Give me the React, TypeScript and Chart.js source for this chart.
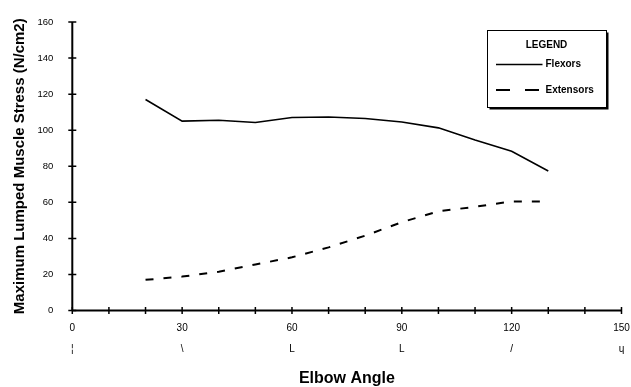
import React, { useEffect, useRef } from 'react';
import { Chart, registerables } from 'chart.js';

Chart.register(...registerables);

// ---- data ----
const angles = [20, 30, 40, 50, 60, 70, 80, 90, 100, 110, 120, 130];
const flexors = [117, 105, 105.5, 104.3, 107, 107.3, 106.5, 104.5, 101.3, 94.5, 88.3, 77.4];
const extensors = [17, 18.8, 21.5, 25.5, 29.5, 35, 41.5, 49, 55, 57.5, 60.5, 60.5];
const xLabeledTicks = [0, 30, 60, 90, 120, 150];
const xTickMarks = ['¦', '\\', 'L', 'L', '/', 'ɥ'];
const seriesNames = ['Flexors', 'Extensors'];
const legendTitle = 'LEGEND';
const xTitle = 'Elbow Angle';
const yTitle = 'Maximum Lumped Muscle Stress (N/cm2)';

const FONT = "'Liberation Sans', Arial, Helvetica, sans-serif";

const axesAndLegend = {
  id: 'axesAndLegend',
  afterDraw(chart: any) {
    const { ctx, chartArea, scales } = chart;
    const xs = scales.x;
    const ys = scales.y;
    const yb = ys.getPixelForValue(0);
    const xl = xs.getPixelForValue(0);
    ctx.save();
    ctx.strokeStyle = '#000';
    ctx.lineWidth = 2;
    ctx.beginPath();
    ctx.moveTo(xl, yb);
    ctx.lineTo(xs.getPixelForValue(150), yb);
    ctx.moveTo(xl, yb);
    ctx.lineTo(xl, ys.getPixelForValue(160));
    ctx.stroke();
    ctx.lineWidth = 1.5;
    ctx.beginPath();
    for (const t of xs.ticks) {
      const px = xs.getPixelForValue(t.value);
      ctx.moveTo(px, yb - 3.5);
      ctx.lineTo(px, yb + 3.5);
    }
    for (const t of ys.ticks) {
      const py = ys.getPixelForValue(t.value);
      ctx.moveTo(xl - 4, py);
      ctx.lineTo(xl + 4, py);
    }
    ctx.stroke();

    // legend box
    const bx = chartArea.right - 134;
    const by = chartArea.top + 8.5;
    const bw = 119;
    const bh = 77;
    ctx.lineWidth = 1;
    ctx.strokeRect(bx, by, bw, bh);
    ctx.lineWidth = 2;
    ctx.beginPath();
    ctx.moveTo(bx + bw + 1, by + 2);
    ctx.lineTo(bx + bw + 1, by + bh + 1);
    ctx.lineTo(bx + 2, by + bh + 1);
    ctx.stroke();

    ctx.fillStyle = '#000';
    ctx.textBaseline = 'middle';
    ctx.font = `bold 10px ${FONT}`;
    ctx.textAlign = 'center';
    ctx.fillText(legendTitle, bx + 59, by + 15);
    ctx.textAlign = 'left';
    ctx.fillText(seriesNames[0], bx + 58, by + 34);
    ctx.fillText(seriesNames[1], bx + 58, by + 59.5);

    ctx.lineWidth = 1.6;
    ctx.beginPath();
    ctx.moveTo(bx + 8.5, by + 34);
    ctx.lineTo(bx + 55, by + 34);
    ctx.stroke();
    ctx.lineWidth = 2;
    ctx.setLineDash([14, 15]);
    ctx.beginPath();
    ctx.moveTo(bx + 8.5, by + 59.5);
    ctx.lineTo(bx + 52, by + 59.5);
    ctx.stroke();
    ctx.restore();
  },
};

export default function App() {
  const ref = useRef<HTMLCanvasElement | null>(null);
  useEffect(() => {
    document.body.style.margin = '0';
    const canvas = ref.current;
    if (!canvas) return;
    const chart = new Chart(canvas, {
      type: 'line',
      data: {
        datasets: [
          {
            label: seriesNames[0],
            data: angles.map((a, i) => ({ x: a, y: flexors[i] })),
            borderColor: '#000',
            borderWidth: 1.6,
            pointRadius: 0,
            tension: 0,
            fill: false,
          },
          {
            label: seriesNames[1],
            data: angles.map((a, i) => ({ x: a, y: extensors[i] })),
            borderColor: '#000',
            borderWidth: 2,
            borderDash: [8, 10],
            pointRadius: 0,
            tension: 0,
            fill: false,
          },
        ],
      },
      options: {
        responsive: false,
        animation: false,
        layout: { padding: { left: 0, top: 22, right: 9.5, bottom: 0 } },
        plugins: { legend: { display: false }, tooltip: { enabled: false } },
        scales: {
          x: {
            type: 'linear',
            min: 0,
            max: 150,
            grid: { display: false, drawTicks: false },
            border: { display: false },
            ticks: {
              stepSize: 10,
              autoSkip: false,
              maxRotation: 0,
              padding: 7,
              color: '#000',
              font: { family: FONT, size: 10, lineHeight: 2.1 },
              callback: (v: any) => {
                const idx = xLabeledTicks.indexOf(Number(v));
                return idx >= 0 ? [String(v), xTickMarks[idx]] : '';
              },
            },
            title: {
              display: true,
              text: xTitle,
              color: '#000',
              font: { family: FONT, size: 16, weight: 'bold', lineHeight: 1 },
              padding: { top: 0, bottom: 0 },
            },
            afterFit: (s: any) => {
              s.height = 76.5;
              s.paddingLeft = 0;
              s.paddingRight = 0;
            },
          },
          y: {
            type: 'linear',
            min: 0,
            max: 160,
            grid: { display: false, drawTicks: false },
            border: { display: false },
            ticks: {
              stepSize: 20,
              padding: 19,
              color: '#000',
              font: { family: FONT, size: 9.5 },
            },
            title: {
              display: true,
              text: yTitle,
              color: '#000',
              font: { family: FONT, size: 15, weight: 'bold', lineHeight: 1.2 },
              padding: { top: 11, bottom: 0 },
            },
            afterFit: (s: any) => {
              s.width = 72.3;
              s.paddingTop = 0;
              s.paddingBottom = 0;
            },
          },
        },
      },
      plugins: [axesAndLegend],
    } as any);
    return () => chart.destroy();
  }, []);
  return (
    <div style={{ width: 631, height: 387, background: '#fff' }}>
      <canvas ref={ref} width={631} height={387} style={{ display: 'block' }} />
    </div>
  );
}
